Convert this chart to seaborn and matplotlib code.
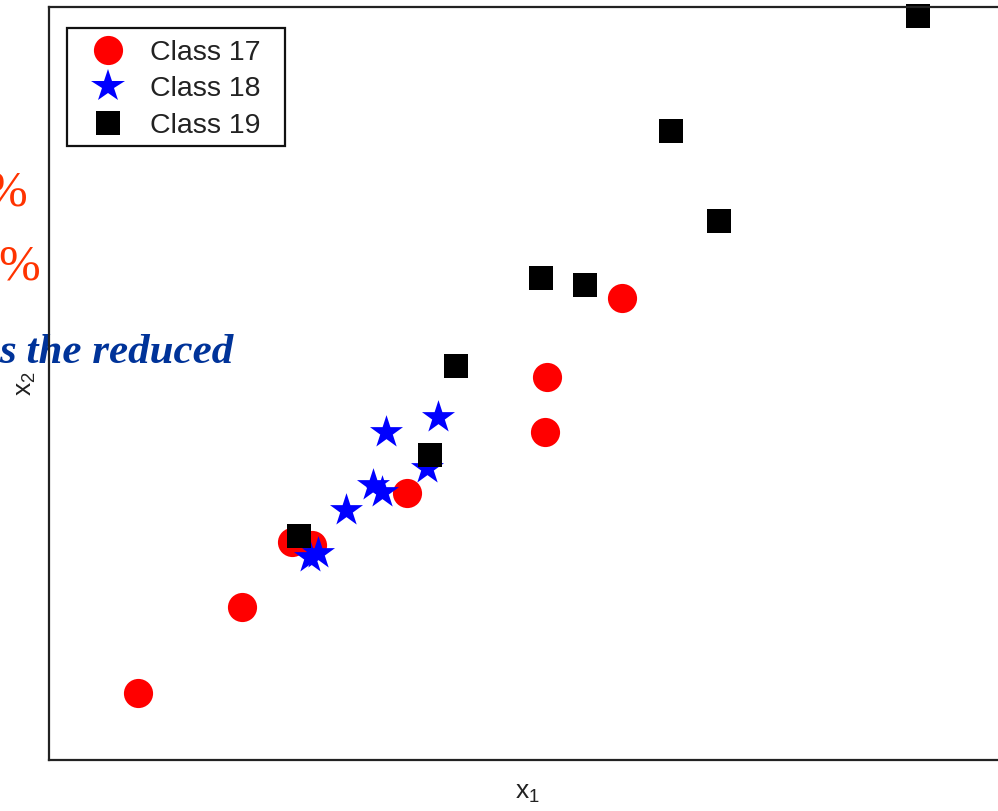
import matplotlib
matplotlib.use("Agg")
import matplotlib.pyplot as plt
import seaborn as sns
import pandas as pd
from matplotlib.lines import Line2D
from matplotlib.patches import Rectangle

# Feature-space coordinates of the three classes
class17_x1 = [0.93, 2.02, 2.54, 2.75, 3.74, 5.19, 5.21, 5.99]
class17_x2 = [0.71, 1.63, 2.32, 2.28, 2.84, 3.49, 4.07, 4.91]

class18_x1 = [2.73, 2.81, 3.11, 3.39, 3.48, 3.52, 3.95, 4.07]
class18_x2 = [2.16, 2.20, 2.66, 2.92, 2.85, 3.49, 3.10, 3.64]

class19_x1 = [2.61, 3.99, 4.26, 5.15, 5.61, 6.51, 7.01, 9.09]
class19_x2 = [2.38, 3.24, 4.19, 5.12, 5.05, 6.68, 5.73, 7.90]

class_names = ["Class 17", "Class 18", "Class 19"]

df = pd.DataFrame({
    "x1": class17_x1 + class18_x1 + class19_x1,
    "x2": class17_x2 + class18_x2 + class19_x2,
    "cls": [class_names[0]] * len(class17_x1)
    + [class_names[1]] * len(class18_x1)
    + [class_names[2]] * len(class19_x1),
})

sns.set_style("white")
W, H = 998, 811
fig = plt.figure(figsize=(W / 100, H / 100), dpi=100)

# axes box in pixel terms: left 49, top 7, bottom 760, right runs past the edge
left, top, bottom, right = 49, 7, 760, 1005
ax = fig.add_axes([left / W, 1 - bottom / H, (right - left) / W, (bottom - top) / H])
ax.set_facecolor("none")

palette = {"Class 17": "#ff0000", "Class 18": "#0000ff", "Class 19": "#000000"}
markers = {"Class 17": "o", "Class 18": "*", "Class 19": "s"}
msize = {"Class 17": 21, "Class 18": 25, "Class 19": 17.5}

for name in class_names:
    sub = df[df["cls"] == name]
    sns.scatterplot(data=sub, x="x1", y="x2", color=palette[name],
                    marker=markers[name], s=msize[name] ** 2,
                    linewidth=0, ax=ax, legend=False, zorder=2, clip_on=False)

ax.set_xlim(0, 10)
ax.set_ylim(0, 8)
ax.set_xticks([])
ax.set_yticks([])
for sp in ax.spines.values():
    sp.set_color("#222222")
    sp.set_linewidth(1.6)

ax.set_xlabel(r"$\mathregular{x_1}$", fontsize=19, family="Liberation Sans",
              color="#222222", labelpad=15)
ax.set_ylabel(r"$\mathregular{x_2}$", fontsize=19, family="Liberation Sans",
              color="#222222", labelpad=8)

# legend box
ax.add_patch(Rectangle((67 / W, 1 - 146 / H), (285 - 67) / W, (146 - 28) / H,
                       transform=fig.transFigure, facecolor="white",
                       edgecolor="#111111", linewidth=1.6, zorder=4, clip_on=False))

fs = 20.5
handles = [Line2D([], [], linestyle="none", marker=markers[n], color=palette[n],
                  markeredgewidth=0, markersize=msize[n] * (1.0 if n != "Class 19" else 0.98))
           for n in class_names]
leg = ax.legend(handles, class_names, loc="upper left",
                bbox_to_anchor=(67 / W, 1 - 31 / H), bbox_transform=fig.transFigure,
                borderaxespad=0, frameon=False,
                prop={"family": "Liberation Sans", "size": fs},
                handletextpad=0.35, labelspacing=0.36, borderpad=0.32,
                handlelength=2.25)
leg.set_zorder(5)
for t in leg.get_texts():
    t.set_color("#222222")

# slide text running in from the left
fig.text(27 / W, 1 - 205 / H, "%", color="#ff3300", fontsize=36,
         family="Liberation Serif", ha="right", va="baseline", zorder=-1)
fig.text(41 / W, 1 - 279 / H, "0%", color="#ff3300", fontsize=36,
         family="Liberation Serif", ha="right", va="baseline", zorder=-1)
fig.text(233 / W, 1 - 363 / H, "s the reduced", color="#003399", fontsize=31,
         family="Liberation Serif", fontweight="bold", fontstyle="italic",
         ha="right", va="baseline", zorder=-1)

fig.savefig("out.png", dpi=100)
